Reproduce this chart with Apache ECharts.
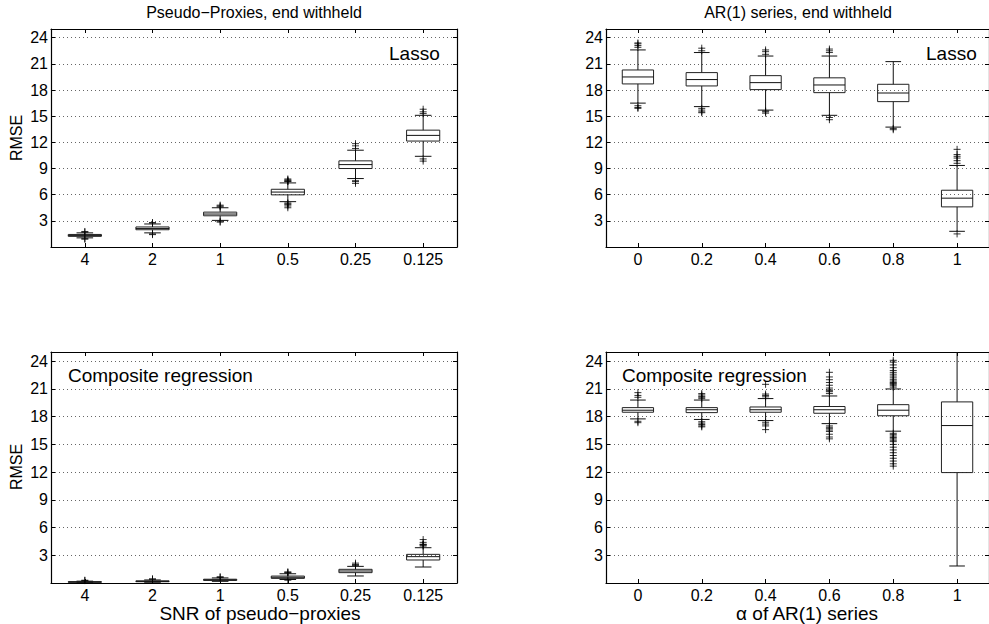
<!DOCTYPE html>
<html><head><meta charset="utf-8">
<script src="https://cdn.jsdelivr.net/npm/echarts@6/dist/echarts.min.js"></script>
<style>html,body{margin:0;padding:0;background:#fff}#c{width:989px;height:624px}</style>
</head><body><div id="c"></div>
<script>
// ---------- data ----------
const snrCategories = ['4', '2', '1', '0.5', '0.25', '0.125'];
const alphaCategories = ['0', '0.2', '0.4', '0.6', '0.8', '1'];
const yTicks = [3, 6, 9, 12, 15, 18, 21, 24];

// box stats: [lower whisker, Q1, median, Q3, upper whisker]
const lassoSnrBoxes = [
  [1.05, 1.22, 1.33, 1.44, 1.62],
  [1.62, 1.98, 2.13, 2.30, 2.64],
  [3.05, 3.58, 3.78, 4.00, 4.50],
  [5.20, 5.98, 6.30, 6.62, 7.35],
  [7.85, 9.00, 9.45, 9.88, 11.10],
  [10.40, 12.15, 12.80, 13.40, 15.10]
];
const lassoSnrOutliers = [
  [0, 1.70], [0, 1.78], [0, 0.95], [0, 0.90],
  [1, 2.75], [1, 2.80], [1, 1.50], [1, 1.42],
  [2, 4.60], [2, 4.70], [2, 4.80], [2, 2.95], [2, 2.85],
  [3, 7.50], [3, 7.55], [3, 7.60], [3, 7.70], [3, 7.80], [3, 5.05], [3, 4.95], [3, 4.85], [3, 4.70], [3, 4.50],
  [4, 11.30], [4, 11.60], [4, 11.85], [4, 7.60], [4, 7.50], [4, 7.30],
  [5, 15.30], [5, 15.50], [5, 15.80], [5, 10.10], [5, 9.85]
];

const lassoArBoxes = [
  [16.50, 18.70, 19.50, 20.30, 22.60],
  [16.10, 18.47, 19.20, 20.00, 22.30],
  [15.70, 18.05, 18.85, 19.65, 21.90],
  [15.10, 17.70, 18.58, 19.40, 21.90],
  [13.75, 16.67, 17.66, 18.66, 21.26],
  [1.80, 4.60, 5.60, 6.51, 9.35]
];
const lassoArOutliers = [
  [0, 22.90], [0, 23.10], [0, 23.30], [0, 23.40], [0, 16.20], [0, 16.00], [0, 15.90],
  [1, 22.50], [1, 22.80], [1, 15.90], [1, 15.70], [1, 15.50], [1, 15.40],
  [2, 22.10], [2, 22.40], [2, 22.60], [2, 15.60], [2, 15.50], [2, 15.35],
  [3, 22.30], [3, 22.50], [3, 22.70], [3, 14.85], [3, 14.60],
  [4, 13.60], [4, 13.45],
  [5, 9.60], [5, 9.90], [5, 10.20], [5, 10.40], [5, 10.60], [5, 11.20], [5, 1.50]
];

const compositeSnrBoxes = [
  [0.04, 0.08, 0.11, 0.14, 0.20],
  [0.08, 0.14, 0.18, 0.23, 0.33],
  [0.18, 0.28, 0.34, 0.41, 0.55],
  [0.38, 0.50, 0.62, 0.75, 1.00],
  [0.76, 1.12, 1.30, 1.48, 1.80],
  [1.73, 2.49, 2.85, 3.10, 3.82]
];
const compositeSnrOutliers = [
  [0, 0.26], [0, 0.30],
  [1, 0.40], [1, 0.45],
  [2, 0.60], [2, 0.68],
  [3, 1.08], [3, 1.15], [3, 1.20], [3, 0.30],
  [4, 1.90], [4, 2.00], [4, 2.15],
  [5, 4.00], [5, 4.10], [5, 4.15], [5, 4.20], [5, 4.40], [5, 4.70]
];

const compositeArBoxes = [
  [17.76, 18.48, 18.70, 18.98, 19.80],
  [17.70, 18.44, 18.75, 18.98, 19.80],
  [17.58, 18.48, 18.75, 19.05, 19.96],
  [17.25, 18.37, 18.75, 19.10, 20.24],
  [16.43, 18.10, 18.70, 19.30, 21.00],
  [1.84, 11.95, 17.04, 19.60, 25.50]
];
const compositeArOutliers = [
  [0, 20.10], [0, 20.30], [0, 20.60], [0, 17.50], [0, 17.35],
  [1, 19.95], [1, 20.10], [1, 20.20], [1, 20.35], [1, 20.50], [1, 17.45], [1, 17.30], [1, 17.15], [1, 17.00], [1, 16.90],
  [2, 20.15], [2, 20.30], [2, 20.45], [2, 21.50], [2, 17.40], [2, 17.20], [2, 17.00], [2, 16.60],
  [3, 20.50], [3, 20.70], [3, 20.80], [3, 20.90], [3, 21.10], [3, 21.40], [3, 21.70], [3, 22.00], [3, 22.30], [3, 22.80],
  [3, 17.00], [3, 16.85], [3, 16.70], [3, 16.55], [3, 16.40], [3, 16.10], [3, 15.80], [3, 15.60],
  [4, 21.20], [4, 21.35], [4, 21.50], [4, 21.60], [4, 21.70], [4, 21.85], [4, 22.00], [4, 22.20], [4, 22.40], [4, 22.60],
  [4, 22.80], [4, 23.00], [4, 23.30], [4, 23.60], [4, 23.90], [4, 24.10],
  [4, 16.20], [4, 16.05], [4, 15.90], [4, 15.75], [4, 15.60], [4, 15.45], [4, 15.30], [4, 15.00], [4, 14.70], [4, 14.40],
  [4, 14.10], [4, 13.80], [4, 13.50], [4, 13.20], [4, 12.90], [4, 12.65]
];

const panelTitles = ['Pseudo\u2212Proxies, end withheld', 'AR(1) series, end withheld'];
const panelLabels = ['Lasso', 'Lasso', 'Composite regression', 'Composite regression'];
const xAxisNames = ['SNR of pseudo\u2212proxies', '\u03b1 of AR(1) series'];
const yAxisName = 'RMSE';

// ---------- chart ----------
const F = '"Liberation Sans", Arial, Helvetica, sans-serif';
const grids = [
  {left: 51, top: 29, width: 406, height: 218},
  {left: 606, top: 29, width: 385, height: 218},
  {left: 51, top: 352, width: 406, height: 231},
  {left: 606, top: 352, width: 385, height: 231}
];
const panelCats = [snrCategories, alphaCategories, snrCategories, alphaCategories];
const panelBoxes = [lassoSnrBoxes, lassoArBoxes, compositeSnrBoxes, compositeArBoxes];
const panelOutliers = [lassoSnrOutliers, lassoArOutliers, compositeSnrOutliers, compositeArOutliers];

const xAxis = [], yAxis = [], series = [];
grids.forEach((g, gi) => {
  const cats = panelCats[gi];
  const common = {
    gridIndex: gi, type: 'category', data: cats, boundaryGap: true,
    axisLine: {show: true, onZero: false, lineStyle: {color: '#000', width: 1.2}},
    axisTick: {show: true, inside: true, alignWithLabel: true, length: 4, lineStyle: {color: '#000', width: 1}},
    splitLine: {show: false}
  };
  xAxis.push(Object.assign({}, common, {position: 'bottom',
    axisLabel: {color: '#000', fontSize: 16, fontFamily: F, margin: 4}}));
  xAxis.push(Object.assign({}, common, {position: 'top', axisLabel: {show: false}}));
  const ycommon = {
    gridIndex: gi, type: 'value', min: 0, max: 25, interval: 3,
    axisLine: {show: true, onZero: false, lineStyle: {color: '#000', width: 1.2}},
    axisTick: {show: true, inside: true, length: 4, lineStyle: {color: '#000', width: 1}}
  };
  yAxis.push(Object.assign({}, ycommon, {position: 'left',
    axisLabel: {color: '#000', fontSize: 16, fontFamily: F, margin: 3,
      formatter: v => (yTicks.indexOf(v) >= 0 ? String(v) : '')},
    splitLine: {show: true, lineStyle: {color: '#666', width: 1, type: [1, 3]}}}));
  yAxis.push(Object.assign({}, ycommon, {position: 'right', axisLabel: {show: false}, splitLine: {show: false}}));

  series.push({
    type: 'custom', xAxisIndex: gi * 2, yAxisIndex: gi * 2, clip: true, silent: true,
    data: panelBoxes[gi].map((b, i) => [i].concat(b)),
    encode: {x: 0, y: [1, 2, 3, 4, 5]},
    renderItem: function (params, api) {
      const i = api.value(0);
      const lo = api.value(1), q1 = api.value(2), med = api.value(3), q3 = api.value(4), hi = api.value(5);
      const band = api.size([1, 0])[0];
      const w = band * 0.49;
      const cx = api.coord([i, med])[0];
      const Y = v => api.coord([i, v])[1];
      const st = {stroke: '#111', lineWidth: 1, fill: null};
      return {type: 'group', children: [
        {type: 'line', shape: {x1: cx, y1: Y(q3), x2: cx, y2: Y(hi)}, style: st},
        {type: 'line', shape: {x1: cx, y1: Y(q1), x2: cx, y2: Y(lo)}, style: st},
        {type: 'line', shape: {x1: cx - w / 4, y1: Y(hi), x2: cx + w / 4, y2: Y(hi)}, style: st},
        {type: 'line', shape: {x1: cx - w / 4, y1: Y(lo), x2: cx + w / 4, y2: Y(lo)}, style: st},
        {type: 'rect', shape: {x: cx - w / 2, y: Y(q3), width: w, height: Y(q1) - Y(q3)}, style: {stroke: '#222', fill: null, lineWidth: 1}},
        {type: 'line', shape: {x1: cx - w / 2, y1: Y(med), x2: cx + w / 2, y2: Y(med)}, style: st}
      ]};
    }
  });
  series.push({
    type: 'scatter', xAxisIndex: gi * 2, yAxisIndex: gi * 2, silent: true,
    symbol: 'path://M0 5 L10 5 M5 0 L5 10', symbolSize: 7,
    itemStyle: {color: 'rgba(0,0,0,0)', borderColor: '#000', borderWidth: 1},
    data: panelOutliers[gi]
  });
});

const txt = (x, y, text, size, align, rot) => ({
  type: 'text', x: x, y: y, rotation: rot || 0, silent: true,
  style: {text: text, fill: '#000', font: size + 'px ' + F, textAlign: align, textVerticalAlign: 'middle'}
});
const graphic = [
  txt(254, 12, panelTitles[0], 16, 'center'),
  txt(798, 12, panelTitles[1], 16, 'center'),
  txt(389, 53, panelLabels[0], 19, 'left'),
  txt(926, 53, panelLabels[1], 19, 'left'),
  txt(68, 375, panelLabels[2], 19, 'left'),
  txt(622, 375, panelLabels[3], 19, 'left'),
  txt(16, 138, yAxisName, 16, 'center', Math.PI / 2),
  txt(16, 467, yAxisName, 16, 'center', Math.PI / 2),
  txt(260, 613, xAxisNames[0], 19, 'center'),
  txt(807, 613, xAxisNames[1], 19, 'center')
];

const chart = echarts.init(document.getElementById('c'), null, {renderer: 'svg'});
chart.setOption({
  animation: false,
  backgroundColor: '#fff',
  grid: grids,
  xAxis: xAxis,
  yAxis: yAxis,
  series: series,
  graphic: graphic
});
</script>
</body></html>
